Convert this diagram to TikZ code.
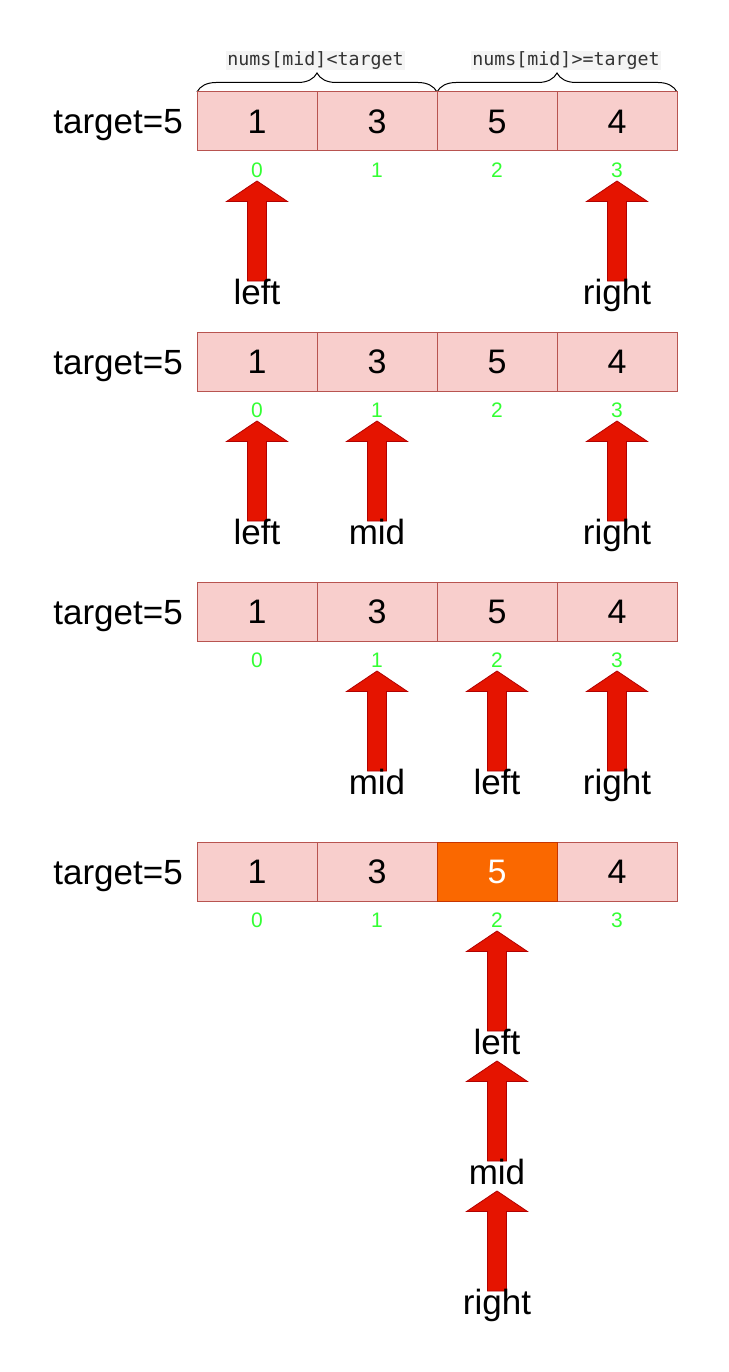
\documentclass[tikz,border=0pt]{standalone}
\usepackage{fontspec}
\setmainfont{Liberation Sans}
\newfontfamily\codefont{DejaVu Sans Mono}
\usetikzlibrary{decorations.pathreplacing}
\definecolor{cellfill}{HTML}{F8CECC}
\definecolor{cellborder}{HTML}{B85450}
\definecolor{hotfill}{HTML}{FA6800}
\definecolor{hotborder}{HTML}{C73500}
\definecolor{idxgreen}{HTML}{33FF33}
\definecolor{arrowred}{HTML}{E51400}
\definecolor{arrowborder}{HTML}{B20000}
\definecolor{codebg}{HTML}{F4F4F4}
\definecolor{codetext}{HTML}{333333}
\tikzset{
  cell/.style={draw=cellborder, fill=cellfill, line width=1pt, minimum width=120pt, minimum height=59pt,
    inner sep=0pt, font=\fontsize{34}{34}\selectfont, text height=24.3pt, text depth=0pt},
  hotcell/.style={cell, draw=hotborder, fill=hotfill, text=white},
  idx/.style={font=\fontsize{21}{21}\selectfont, text=idxgreen, text height=15pt, text depth=0pt, inner sep=0pt},
  tgt/.style={font=\fontsize{35}{35}\selectfont, text height=25pt, text depth=0pt, inner sep=0pt, anchor=east},
  ptrlabel/.style={font=\fontsize{35}{35}\selectfont, inner sep=0pt, anchor=base},
  codelabel/.style={font=\codefont\fontsize{18.3}{18.3}\selectfont, text=codetext, fill=codebg, inner sep=1pt, text height=13pt, text depth=4pt},
  bracestyle/.style={decorate, decoration={brace, amplitude=19pt}, line width=1pt},
  pics/uparrow/.style={code={
    \filldraw[fill=arrowred, draw=arrowborder, line width=0.8pt]
      (0,0) -- (30.5,20.5) -- (9.5,20.5) -- (9.5,100) -- (-9.5,100) -- (-9.5,20.5) -- (-30.5,20.5) -- cycle;}}
}
\begin{document}
\begin{tikzpicture}[x=1pt, y=-1pt]
\useasboundingbox (0,0) rectangle (728,1372);

% braces and labels
\draw[bracestyle] (197,92) -- (437,92);
\draw[bracestyle] (437,92) -- (677,92);
\node[codelabel] (lblless) at (315.5,61) {nums[mid]<target};
\node[codelabel] (lblge) at (566,61) {nums[mid]>=target};

% rows
\foreach \r/\yc/\yi in {1/121.5/170, 2/361.5/410, 3/611.5/660, 4/871.5/920} {
  \node[tgt] (t\r) at (183,\yc) {target=5};
  \node[cell] (c\r a) at (257,\yc) {1};
  \node[cell] (c\r b) at (377,\yc) {3};
  \node[cell] (c\r d) at (617,\yc) {4};
  \node[idx] (i\r a) at (257,\yi) {0};
  \node[idx] (i\r b) at (377,\yi) {1};
  \node[idx] (i\r c) at (497,\yi) {2};
  \node[idx] (i\r d) at (617,\yi) {3};
}
\node[cell] (c1c) at (497,121.5) {5};
\node[cell] (c2c) at (497,361.5) {5};
\node[cell] (c3c) at (497,611.5) {5};
\node[hotcell] (c4c) at (497,871.5) {5};

% row 1 pointers
\pic at (257,181) {uparrow};
\pic at (617,181) {uparrow};
\node[ptrlabel] (p1l) at (257,304) {left};
\node[ptrlabel] (p1r) at (617,304) {right};

% row 2 pointers
\pic at (257,421) {uparrow};
\pic at (377,421) {uparrow};
\pic at (617,421) {uparrow};
\node[ptrlabel] (p2l) at (257,544) {left};
\node[ptrlabel] (p2m) at (377,544) {mid};
\node[ptrlabel] (p2r) at (617,544) {right};

% row 3 pointers
\pic at (377,671) {uparrow};
\pic at (497,671) {uparrow};
\pic at (617,671) {uparrow};
\node[ptrlabel] (p3m) at (377,794) {mid};
\node[ptrlabel] (p3l) at (497,794) {left};
\node[ptrlabel] (p3r) at (617,794) {right};

% row 4 pointers
\pic at (497,931) {uparrow};
\pic at (497,1061) {uparrow};
\pic at (497,1191) {uparrow};
\node[ptrlabel] (p4l) at (497,1054) {left};
\node[ptrlabel] (p4m) at (497,1184) {mid};
\node[ptrlabel] (p4r) at (497,1314) {right};
\end{tikzpicture}
\end{document}
